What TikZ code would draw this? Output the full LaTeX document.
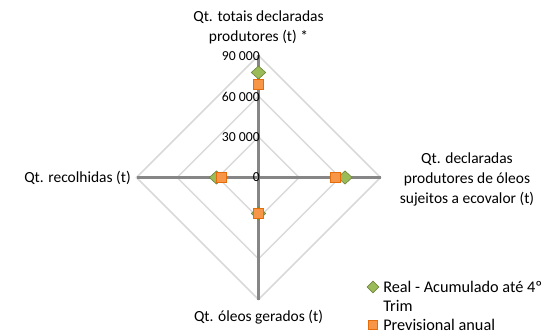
\documentclass[tikz,border=0pt]{standalone}
\usepackage{fontspec}
\setmainfont{Carlito}
\usetikzlibrary{calc,positioning,shapes}
\definecolor{gridgray}{HTML}{D9D9D9}
\definecolor{axisgray}{HTML}{868686}
\definecolor{realgreen}{HTML}{9BBB59}
\definecolor{realgreendk}{HTML}{71893F}
\definecolor{prevorange}{HTML}{F79646}
\definecolor{prevorangedk}{HTML}{E46C0A}

\begin{document}
\begin{tikzpicture}[
    x=0.75pt, y=-0.75pt,
    grid/.style={draw=gridgray, line width=1.1pt},
    vaxis/.style={draw=axisgray, line width=2.3pt},
    haxis/.style={draw=axisgray, line width=1.8pt},
    real/.style={diamond, draw=realgreendk, fill=realgreen, inner sep=0,
                 minimum width=11pt, minimum height=10pt, line width=0.5pt},
    prev/.style={rectangle, draw=prevorangedk, fill=prevorange, inner sep=0,
                 minimum size=7.5pt, line width=0.5pt},
    tick/.style={anchor=east, inner sep=0, font=\fontsize{10.3}{12}\selectfont},
    catlabel/.style={align=center, inner sep=0},
    legtext/.style={anchor=west, align=left, inner sep=0,
                    font=\fontsize{12.2}{14}\selectfont}
]

    \tikzstyle{every node}=[font=\fontsize{11.6}{15}\selectfont];

    \useasboundingbox (0,0) rectangle (556,334);

    % radar frame
    \coordinate (ctr) at (258.5,177.5);
    \coordinate (top) at (258.5,55.5);
    \coordinate (rgt) at (380.5,177.5);
    \coordinate (bot) at (258.5,299.5);
    \coordinate (lft) at (136.5,177.5);

    % grid diamonds (30 000, 60 000, 90 000)
    \foreach \r in {40.67,81.33,122}
        \draw[grid] ($(ctr)+(0,-\r)$) -- ($(ctr)+(\r,0)$) -- ($(ctr)+(0,\r)$)
                    -- ($(ctr)+(-\r,0)$) -- cycle;

    % axes
    \draw[haxis] (lft) -- (rgt);
    \draw[vaxis] (top) -- (bot);

    % scale
    \node[tick] (t90) at (260,56) {90 000};
    \node[tick] (t60) at (260,96.5) {60 000};
    \node[tick] (t30) at (260,137) {30 000};
    \node[tick] (t0)  at (260,177.5) {0};

    % category labels
    \node[catlabel] (lblTop) at (258.5,27.5) {Qt. totais declaradas\\produtores (t) *};
    \node[catlabel] (lblRight) at (467,179) {Qt. declaradas\\produtores de óleos\\sujeitos a ecovalor (t)};
    \node[catlabel, anchor=east] (lblLeft) at (131,178) {Qt. recolhidas (t)};
    \node[catlabel] (lblBottom) at (258.5,317) {Qt. óleos gerados (t)};

    % Real - Acumulado
    \node[real] (rTop) at (258.5,72.5) {};
    \node[real] (rRgt) at (345,177.5) {};
    \node[real] (rBot) at (258.5,213.5) {};
    \node[real] (rLft) at (216.5,177.5) {};

    % Previsional anual
    \node[prev] (pTop) at (258.5,84) {};
    \node[prev] (pRgt) at (335,177.5) {};
    \node[prev] (pBot) at (258.5,213.5) {};
    \node[prev] (pLft) at (221.5,177.5) {};

    % legend
    \node[real, minimum width=9pt, minimum height=9pt] (legReal) at (373,287) {};
    \node[legtext] (legRealTxt) at (383,296.5) {Real - Acumulado até 4º\\Trim};
    \node[prev, minimum size=7pt] (legPrev) at (373,325) {};
    \node[legtext] (legPrevTxt) at (383,325) {Previsional anual};

\end{tikzpicture}
\end{document}
